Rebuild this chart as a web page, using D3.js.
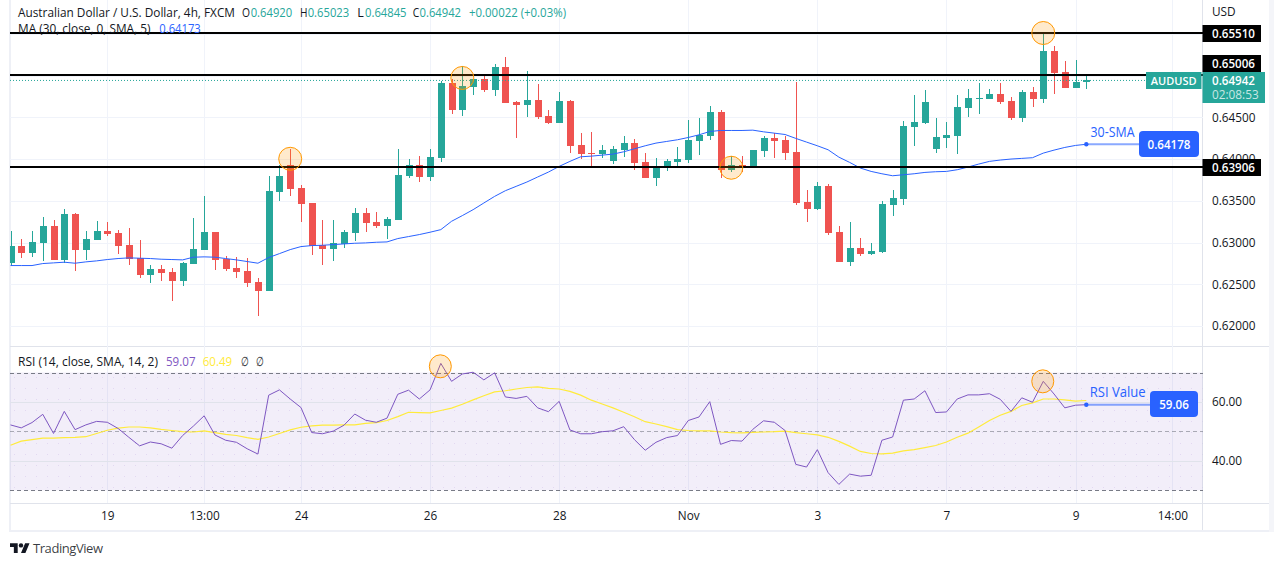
<!DOCTYPE html>
<html><head><meta charset="utf-8">
<script src="https://cdn.jsdelivr.net/npm/d3@7"></script>
<style>
html,body{margin:0;padding:0;background:#fff}
svg{display:block}
text{font-family:"Open Sans",Roboto,sans-serif;fill:#131722}
</style></head><body><svg id="c" width="1274" height="566"></svg>
<script>
// Price values in 1/100000 of a dollar.
const opens=[62758,62965,62881,63001,63204,62798,63347,62917,63037,63144,63120,62977,62822,62607,62690,62643,62547,62750,62917,63133,62810,62702,62655,62535,62427,63610,63933,63658,63479,62977,62929,62989,63120,63359,63252,63204,63276,63801,63933,63790,64017,64912,64590,64865,64960,64829,65104,64686,64650,64709,64518,64435,64697,64172,64076,64064,63981,64112,64196,63969,63778,63897,63969,63993,64220,64279,64566,63873,63933,63909,64100,64255,64232,64088,63491,63407,63682,63133,62774,62941,62869,62894,63455,63527,64387,64435,64124,64255,64279,64614,64721,64721,64781,64697,64494,64805,64721,65295,65044,64853,64920];
const highs=[63136,63049,63144,63311,63276,63407,63359,63144,63264,63252,63156,63180,63037,62738,62738,62702,62774,63300,63562,63133,62846,62834,62822,62583,63801,63933,64124,63694,63479,63276,63276,63156,63419,63419,63371,63311,64124,64005,64040,64124,64936,64960,65116,64960,65020,65139,65223,64697,65056,64901,64590,64805,64709,64315,64327,64172,64160,64279,64244,64076,64017,64005,64148,64470,64494,64638,64590,64040,64040,64112,64279,64315,64279,64924,63634,63730,63706,63204,63252,63061,63001,63503,63634,64458,64769,64829,64494,64446,64769,64841,64912,64841,64912,64745,64829,64865,65510,65354,65175,65187,65023];
const lows=[62718,62822,62834,62786,62798,62758,62666,62798,63037,63084,62869,62738,62583,62523,62547,62296,62487,62750,62917,62678,62655,62583,62475,62117,62427,63503,63562,63252,62858,62738,62786,62941,63025,63133,63180,63049,63276,63778,63730,63742,63969,64542,64518,64769,64805,64757,64674,64255,64506,64482,64423,64435,64076,64005,63897,64017,63945,64028,63873,63778,63682,63861,63909,63957,64052,64232,63778,63849,63849,63909,64028,64017,63993,63455,63252,63395,63096,62774,62726,62846,62858,62881,63324,63455,64160,64423,64076,64136,64064,64506,64542,64721,64662,64470,64446,64626,64674,64781,64853,64853,64845];
const closes=[62965,62881,63013,63204,62798,63347,62917,63049,63144,63108,62965,62810,62607,62690,62631,62547,62762,62929,63133,62798,62690,62643,62523,62427,63622,63801,63646,63467,62965,62929,63001,63133,63359,63240,63204,63288,63813,63933,63790,64028,64912,64590,64877,64960,64829,65104,64674,64650,64709,64506,64435,64697,64160,64064,64064,64112,64124,64196,63957,63778,63909,63981,64005,64232,64291,64566,63873,63933,63909,64112,64255,64220,64076,63479,63407,63682,63120,62774,62941,62869,62905,63467,63539,64399,64446,64686,64267,64291,64626,64733,64733,64781,64686,64494,64805,64721,65295,65032,64853,64924,64942];
const sma30=[62726,62726,62726,62750,62758,62766,62754,62770,62782,62798,62810,62818,62814,62810,62802,62798,62794,62826,62830,62826,62810,62794,62774,62754,62822,62869,62917,62953,62965,62969,62977,62985,62993,62997,63005,63009,63049,63073,63097,63125,63156,63256,63324,63395,63475,63554,63622,63674,63726,63786,63845,63913,63973,64028,64036,64048,64060,64088,64124,64160,64192,64212,64232,64259,64291,64331,64343,64343,64343,64347,64327,64311,64295,64248,64204,64160,64112,64024,63961,63893,63853,63825,63801,63813,63825,63841,63849,63853,63873,63905,63941,63973,63989,64001,64009,64017,64072,64108,64140,64164,64178];
const rsi=[52.2,51.2,53.0,55.8,49.3,56.8,50.6,52.2,53.4,53.1,51.0,48.0,45.1,46.4,45.8,44.3,48.6,51.8,55.3,48.8,47.0,46.3,44.1,42.3,62.3,64.1,61.0,58.1,49.6,49.2,50.1,52.1,55.9,53.8,53.1,54.5,62.6,64.0,61.0,64.1,73.1,67.0,69.5,70.1,67.5,69.9,61.7,61.2,61.9,58.0,56.7,60.2,50.5,49.2,49.2,49.9,50.2,51.6,47.2,43.6,46.3,47.9,48.6,53.7,54.9,60.1,45.6,46.9,46.7,50.7,53.6,53.1,50.3,38.8,37.9,43.8,36.0,32.0,35.5,34.8,35.1,47.0,48.1,60.6,61.0,63.8,56.4,56.6,61.0,62.4,62.4,62.8,60.9,56.8,61.4,59.9,67.0,62.7,58.0,58.9,59.06];
const rsiMa=[45.3,46.7,47.2,47.7,47.7,47.9,48.0,48.2,49.3,50.4,51.1,51.5,51.5,51.2,50.7,50.3,49.9,49.8,50.2,49.6,49.0,48.6,47.9,47.3,48.1,49.3,50.5,51.4,51.9,52.1,52.1,52.2,52.2,52.7,53.0,53.7,55.0,56.5,56.4,56.3,57.1,57.9,59.2,60.7,62.1,63.4,63.8,64.4,64.9,65.1,64.6,64.4,63.6,62.3,60.6,59.3,58.0,56.5,55.0,53.3,52.5,51.6,50.6,50.3,50.2,50.2,49.8,49.6,49.5,49.7,49.8,49.9,50.1,49.6,49.2,48.8,48.0,46.6,45.0,43.2,42.5,42.4,42.6,43.4,43.8,44.5,45.2,46.4,48.0,49.4,51.5,53.7,55.5,56.8,58.8,59.7,61.0,61.0,60.7,60.3,60.49];
const priceTicks=[0.62,0.625,0.63,0.635,0.64,0.645,0.65,0.655];
const priceLabels=[0.62,0.625,0.63,0.635,0.64,0.645];
const levels=[0.6551,0.65006,0.63906];
const rsiTicks=[60,40];
const timeIdx=[9,18,27,39,51,63,75,87,99,108];
const timeLabels=["19","13:00","24","26","28","Nov","3","7","9","14:00"];
const markIdx=[26,42,67,96];
const markPrice=[0.64004,0.64972,0.63897,0.6551];
const rsiMarkIdx=[40,96];
const rsiMarkVal=[72.1,67];
const lastPrice=0.64942, smaLast=0.64178, rsiLast=59.06;

const svg=d3.select("#c");
const L=10,R=1202.5,B1=346,B2=503,B3=530;
const N=opens.length;
const x=d3.scaleLinear().domain([0,100]).range([10.5,1086.3]);
const y=d3.scaleLinear().domain([0.62,0.6551]).range([326.2,33]);
const yr=d3.scaleLinear().domain([30,70]).range([490.3,372.5]);
const P=v=>v/1e5;

const defs=svg.append("defs");
defs.append("clipPath").attr("id","main").append("rect").attr("x",L).attr("y",0).attr("width",R-L).attr("height",B1);
const pat=defs.append("pattern").attr("id","dots").attr("width",11).attr("height",11).attr("patternUnits","userSpaceOnUse");
pat.append("rect").attr("x",3).attr("y",3).attr("width",1).attr("height",1).attr("fill","#7e57c2").attr("opacity",.14);

// Frame
svg.append("rect").attr("x",9).attr("y",0).attr("width",2).attr("height",B3+2).attr("fill","#eef0f6");
svg.append("rect").attr("x",9).attr("y",B3).attr("width",1265).attr("height",2).attr("fill","#eef0f6");
svg.append("rect").attr("x",1269).attr("y",0).attr("width",5).attr("height",B3+2).attr("fill","#f4f5f9");
svg.append("line").attr("x1",L).attr("x2",1269).attr("y1",B1+.5).attr("y2",B1+.5).attr("stroke","#e0e3eb");
svg.append("line").attr("x1",L).attr("x2",1269).attr("y1",B2+.5).attr("y2",B2+.5).attr("stroke","#e0e3eb");
svg.append("line").attr("x1",R).attr("x2",R).attr("y1",0).attr("y2",B3).attr("stroke","#e0e3eb");

// Grids
const grid=svg.append("g").attr("shape-rendering","crispEdges");
grid.selectAll("line.gx").data(timeIdx).join("line").attr("class","gx").attr("x1",d=>Math.round(x(d))+.5).attr("x2",d=>Math.round(x(d))+.5).attr("y1",0).attr("y2",B2).attr("stroke","#f0f3fa");
grid.selectAll("line.gy").data(priceTicks).join("line").attr("class","gy").attr("x1",L).attr("x2",R).attr("y1",d=>Math.round(y(d))+.5).attr("y2",d=>Math.round(y(d))+.5).attr("stroke","#f0f3fa");

// Candles
const g=svg.append("g").attr("clip-path","url(#main)").attr("shape-rendering","crispEdges");
const idx=d3.range(N);
const col=i=>closes[i]>=opens[i]?"#26a69a":"#ef5350";
g.selectAll("line").data(idx).join("line").attr("x1",i=>Math.round(x(i))+.5).attr("x2",i=>Math.round(x(i))+.5)
 .attr("y1",i=>y(P(highs[i]))).attr("y2",i=>y(P(lows[i]))).attr("stroke",col);
g.selectAll("rect").data(idx).join("rect").attr("x",i=>Math.round(x(i))-3).attr("width",7)
 .attr("y",i=>y(P(Math.max(opens[i],closes[i]))))
 .attr("height",i=>Math.max(1.5,Math.abs(y(P(opens[i]))-y(P(closes[i]))))).attr("fill",col);

// 30-SMA
svg.append("path").attr("clip-path","url(#main)").attr("fill","none").attr("stroke","#2962ff").attr("stroke-width",1)
 .attr("d",d3.line().x((d,i)=>x(i)).y(d=>y(P(d)))(sma30));

// Last price dotted line
svg.append("line").attr("x1",L).attr("x2",1146).attr("y1",y(lastPrice)).attr("y2",y(lastPrice))
 .attr("stroke","#26a69a").attr("stroke-width",1).attr("stroke-dasharray","1 2");

// Level lines
svg.selectAll("line.lvl").data(levels).join("line").attr("class","lvl").attr("x1",L).attr("x2",R).attr("y1",d=>Math.round(y(d))).attr("y2",d=>Math.round(y(d)))
 .attr("stroke","#000").attr("stroke-width",2).attr("shape-rendering","crispEdges");

// Marker circles
svg.selectAll("circle.m").data(markIdx).join("circle").attr("class","m").attr("cx",d=>x(d)).attr("cy",(d,i)=>y(markPrice[i])).attr("r",11.5)
 .attr("fill","rgba(255,152,0,.2)").attr("stroke","#ff9800").attr("stroke-width",1);

// RSI pane
svg.append("rect").attr("x",L).attr("width",R-L).attr("y",yr(70)).attr("height",yr(30)-yr(70)).attr("fill","rgba(126,87,194,.1)");
svg.append("rect").attr("x",L).attr("width",R-L).attr("y",yr(70)).attr("height",yr(30)-yr(70)).attr("fill","url(#dots)");
svg.selectAll("line.rg").data(rsiTicks).join("line").attr("class","rg").attr("x1",L).attr("x2",R).attr("y1",d=>Math.round(yr(d))+.5).attr("y2",d=>Math.round(yr(d))+.5)
 .attr("stroke","#e0e3eb").attr("shape-rendering","crispEdges");
svg.selectAll("line.rd").data([70,50,30]).join("line").attr("class","rd").attr("x1",L).attr("x2",R).attr("y1",d=>Math.round(yr(d))+.5).attr("y2",d=>Math.round(yr(d))+.5)
 .attr("stroke","#787b86").attr("stroke-opacity",d=>d===50?.6:1).attr("stroke-dasharray","4 3").attr("shape-rendering","crispEdges");
const ln=d3.line().x((d,i)=>x(i)).y(d=>yr(d));
svg.append("path").attr("fill","none").attr("stroke","#ffeb3b").attr("stroke-width",1.2).attr("d",ln(rsiMa));
svg.append("path").attr("fill","none").attr("stroke","#7e57c2").attr("stroke-width",1).attr("d",ln(rsi));
svg.selectAll("ellipse.rm").data(rsiMarkIdx).join("ellipse").attr("class","rm").attr("cx",d=>x(d)-.5).attr("cy",(d,i)=>yr(rsiMarkVal[i])).attr("rx",11).attr("ry",11.5)
 .attr("fill","rgba(255,152,0,.2)").attr("stroke","#ff9800").attr("stroke-width",1);

// Axes (real d3 axes, labels only)
const ax=svg.append("g").attr("transform",`translate(${R},0)`).call(d3.axisRight(y).tickValues(priceLabels).tickFormat(d3.format(".5f")).tickSize(0).tickPadding(9.5));
const ax2=svg.append("g").attr("transform",`translate(${R},0)`).call(d3.axisRight(yr).tickValues(rsiTicks).tickFormat(d3.format(".2f")).tickSize(0).tickPadding(9.5));
const ax3=svg.append("g").attr("transform",`translate(0,${B2})`).call(d3.axisBottom(x).tickValues(timeIdx).tickFormat((d,i)=>timeLabels[i]).tickSize(0).tickPadding(9));
[ax,ax2,ax3].forEach(a=>{a.select(".domain").remove();a.selectAll("text").style("font-size","11.8px").style("font-family",'"Open Sans",sans-serif').style("fill","#131722")});
svg.append("text").attr("x",1212).attr("y",16).attr("font-size",11.8).text("USD");

// Price tags
function tag(px,py,w,h,fill,t,opt={}){
  svg.append("rect").attr("x",px).attr("y",py).attr("width",w).attr("height",h).attr("fill",fill).attr("rx",opt.r||0);
  svg.append("text").attr("x",opt.tx||px+w/2).attr("y",py+(opt.ty||h/2+4.2)).attr("text-anchor",opt.anchor||"middle")
   .attr("font-size",opt.fs||11.6).attr("font-weight",600).style("fill","#fff").text(t);
}
const fmt=d3.format(".5f");
tag(R,25,58.5,17,"#000",fmt(levels[0]),{tx:1212,anchor:"start"});
tag(R,55,58.5,17,"#000",fmt(levels[1]),{tx:1212,anchor:"start"});
tag(R,159,58.5,17,"#000",fmt(levels[2]),{tx:1212,anchor:"start"});
tag(1146,72,55.5,17,"#26a69a","AUDUSD",{fs:11});
tag(R,72,62.5,31,"#26a69a",fmt(lastPrice),{tx:1212,anchor:"start",ty:13});
svg.append("text").attr("x",1212).attr("y",99).attr("font-size",11.8).style("fill","#fff").style("fill-opacity",.75).text("02:08:53");

// 30-SMA annotation
const bx=x(100);
svg.append("line").attr("x1",bx).attr("x2",1139).attr("y1",y(smaLast)).attr("y2",y(smaLast)).attr("stroke","#2962ff").attr("stroke-opacity",.55).attr("stroke-width",2);
svg.append("circle").attr("cx",bx).attr("cy",y(smaLast)).attr("r",2.2).attr("fill","#2962ff");
svg.append("text").attr("x",1090.5).attr("y",137).attr("font-size",14).attr("textLength",44).attr("lengthAdjust","spacingAndGlyphs").style("fill","#2962ff").text("30-SMA");
tag(1139,131,60,26,"#2962ff",fmt(smaLast),{r:4,ty:17.5});

// RSI annotation
svg.append("line").attr("x1",bx).attr("x2",1150).attr("y1",yr(rsiLast)).attr("y2",yr(rsiLast)).attr("stroke","#2962ff").attr("stroke-opacity",.55).attr("stroke-width",2);
svg.append("circle").attr("cx",bx).attr("cy",yr(rsiLast)).attr("r",2.2).attr("fill","#2962ff");
svg.append("text").attr("x",1089.7).attr("y",397).attr("font-size",14).attr("textLength",56).attr("lengthAdjust","spacingAndGlyphs").style("fill","#2962ff").text("RSI Value");
tag(1150,391,48,26,"#2962ff","59.06",{r:4,ty:17.5});

// Legends
function item(xp,yp,s,c,len){
  svg.append("text").attr("x",xp).attr("y",yp).attr("font-size",12.6).attr("textLength",len).attr("lengthAdjust","spacingAndGlyphs").style("fill",c).text(s);
}
const tl="#26a69a",dk="#131722";
item(18,17.3,"Australian Dollar / U.S. Dollar, 4h, FXCM",dk,217);
item(242,17.3,"O",dk,8); item(250.7,17.3,"0.64920",tl,41.5);
item(300,17.3,"H",dk,7.5); item(307.7,17.3,"0.65023",tl,41.5);
item(357.3,17.3,"L",dk,6.5); item(365,17.3,"0.64845",tl,41.5);
item(412.7,17.3,"C",dk,6.5); item(419.5,17.3,"0.64942",tl,41.5);
item(469,17.3,"+0.00022 (+0.03%)",tl,97);
item(18,33,"MA (30, close, 0, SMA, 5)",dk,132.5); item(159.3,33,"0.64173","#2962ff",41.5);
item(18,366,"RSI (14, close, SMA, 14, 2)",dk,140); item(166,366,"59.07","#7e57c2",29.5); item(202.7,366,"60.49","#ffeb3b",29.5);
item(240.7,366,"∅",dk,7.5); item(255.7,366,"∅",dk,7.5);

// Brand
const logo=svg.append("g").attr("transform","translate(10,541) scale(.55)");
logo.append("path").attr("fill","#131722").attr("d","M14 22H7V11H0V4h14v18zM28 22h-8l7.5-18h8L28 22z");
logo.append("circle").attr("cx",20).attr("cy",8).attr("r",4).attr("fill","#131722");
svg.append("text").attr("x",33).attr("y",553).attr("font-size",13).attr("textLength",70).style("fill","#131722").style("fill-opacity",.85).text("TradingView");
</script></body></html>
